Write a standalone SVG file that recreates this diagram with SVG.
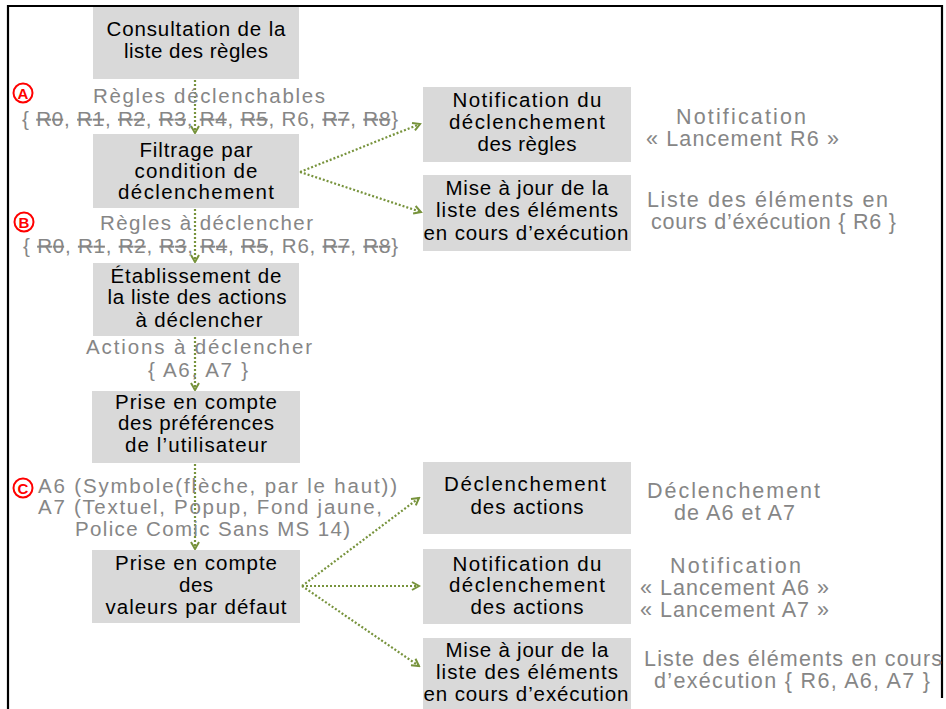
<svg xmlns="http://www.w3.org/2000/svg" width="946" height="709" viewBox="0 0 946 709">
<style>
.box{fill:#D9D9D9}
.bt{font-family:"Liberation Sans",Arial,sans-serif;font-size:20.5px;fill:#000;text-anchor:middle}
.gl{font-family:"Liberation Sans",Arial,sans-serif;font-size:20.5px;fill:#868686}
.gr{font-family:"Liberation Sans",Arial,sans-serif;font-size:21.5px;fill:#868686}
.st{text-decoration:line-through}
.con{fill:none;stroke:#77933C;stroke-width:2.2;stroke-dasharray:2 2;marker-end:url(#ah)}
.mk{fill:none;stroke:#FF0000;stroke-width:2}
.mt{font-family:"Liberation Sans",Arial,sans-serif;font-size:15px;font-weight:bold;fill:#FF0000;text-anchor:middle}
</style>
<defs>
<marker id="ah" markerWidth="10" markerHeight="10" refX="8" refY="5" orient="auto" markerUnits="userSpaceOnUse">
<path d="M1,1 L8,5 L1,9" fill="none" stroke="#77933C" stroke-width="2"/>
</marker>
</defs>
<rect x="0" y="0" width="946" height="709" fill="#FFFFFF"/>
<path d="M8,712 L8,6 L942,6 L942,698" fill="none" stroke="#000" stroke-width="2.2"/>

<g id="connectors">
<line class="con" x1="195" y1="80" x2="195" y2="133"/>
<line class="con" x1="195" y1="209" x2="195" y2="262"/>
<line class="con" x1="195" y1="337" x2="195" y2="390"/>
<line class="con" x1="195" y1="464" x2="195" y2="549"/>
<line class="con" x1="300" y1="172" x2="420" y2="124"/>
<line class="con" x1="300" y1="172" x2="421" y2="212"/>
<line class="con" x1="302" y1="586" x2="419" y2="498"/>
<line class="con" x1="302" y1="586" x2="419" y2="586"/>
<line class="con" x1="302" y1="586" x2="419" y2="666"/>
</g>

<g id="n-consultation">
<rect class="box" x="93" y="7" width="206" height="72"/>
<text class="bt" x="196" y="36" textLength="179">Consultation de la</text>
<text class="bt" x="196" y="58" textLength="144">liste des règles</text>
</g>
<g id="n-filtrage">
<rect class="box" x="93" y="134" width="206" height="74"/>
<text class="bt" x="196" y="157" textLength="113">Filtrage par</text>
<text class="bt" x="196" y="178" textLength="123">condition de</text>
<text class="bt" x="196" y="199" textLength="156">déclenchement</text>
</g>
<g id="n-etablissement">
<rect class="box" x="93" y="263" width="206" height="73"/>
<text class="bt" x="196" y="283" textLength="171">Établissement de</text>
<text class="bt" x="197" y="304" textLength="179">la liste des actions</text>
<text class="bt" x="199" y="327" textLength="127">à déclencher</text>
</g>
<g id="n-preferences">
<rect class="box" x="92" y="391" width="208" height="72"/>
<text class="bt" x="196" y="409" textLength="162">Prise en compte</text>
<text class="bt" x="196" y="430" textLength="156">des préférences</text>
<text class="bt" x="196" y="452" textLength="142">de l’utilisateur</text>
</g>
<g id="n-defaut">
<rect class="box" x="92" y="550" width="208" height="73"/>
<text class="bt" x="196" y="570" textLength="162">Prise en compte</text>
<text class="bt" x="196" y="592" textLength="34">des</text>
<text class="bt" x="196" y="614" textLength="181">valeurs par défaut</text>
</g>
<g id="n-notif-regles">
<rect class="box" x="423" y="87" width="208" height="75"/>
<text class="bt" x="527" y="107" textLength="149">Notification du</text>
<text class="bt" x="527" y="129" textLength="156">déclenchement</text>
<text class="bt" x="527" y="151" textLength="99">des règles</text>
</g>
<g id="n-maj1">
<rect class="box" x="423" y="175" width="208" height="76"/>
<text class="bt" x="527" y="195" textLength="163">Mise à jour de la</text>
<text class="bt" x="527" y="217" textLength="182">liste des éléments</text>
<text class="bt" x="526" y="240" textLength="205">en cours d’exécution</text>
</g>
<g id="n-declenchement">
<rect class="box" x="423" y="462" width="208" height="72"/>
<text class="bt" x="525" y="491" textLength="162">Déclenchement</text>
<text class="bt" x="527" y="514" textLength="113">des actions</text>
</g>
<g id="n-notif-actions">
<rect class="box" x="423" y="549" width="208" height="75"/>
<text class="bt" x="527" y="571" textLength="149">Notification du</text>
<text class="bt" x="527" y="592" textLength="156">déclenchement</text>
<text class="bt" x="527" y="614" textLength="113">des actions</text>
</g>
<g id="n-maj2">
<rect class="box" x="423" y="638" width="208" height="80"/>
<text class="bt" x="527" y="657" textLength="163">Mise à jour de la</text>
<text class="bt" x="527" y="679" textLength="182">liste des éléments</text>
<text class="bt" x="526" y="701" textLength="205">en cours d’exécution</text>
</g>

<g id="markers">
<circle class="mk" cx="23" cy="93" r="9.5"/><text class="mt" x="23" y="98.5">A</text>
<circle class="mk" cx="24" cy="222" r="9.5"/><text class="mt" x="24" y="227.5">B</text>
<circle class="mk" cx="23" cy="488" r="9.5"/><text class="mt" x="23" y="493.5">C</text>
</g>

<g id="labels">
<text class="gl" x="93" y="103" textLength="232">Règles déclenchables</text>
<text class="gl" x="22" y="126" textLength="376">{ <tspan class="st">R0</tspan>, <tspan class="st">R1</tspan>, <tspan class="st">R2</tspan>, <tspan class="st">R3</tspan>, <tspan class="st">R4</tspan>, <tspan class="st">R5</tspan>, R6, <tspan class="st">R7</tspan>, <tspan class="st">R8</tspan>}</text>
<text class="gl" x="100" y="230" textLength="213">Règles à déclencher</text>
<text class="gl" x="23" y="253" textLength="375">{ <tspan class="st">R0</tspan>, <tspan class="st">R1</tspan>, <tspan class="st">R2</tspan>, <tspan class="st">R3</tspan>, <tspan class="st">R4</tspan>, <tspan class="st">R5</tspan>, R6, <tspan class="st">R7</tspan>, <tspan class="st">R8</tspan>}</text>
<text class="gl" x="86" y="354" textLength="226">Actions à déclencher</text>
<text class="gl" x="148" y="377" textLength="100">{ A6, A7 }</text>
<text class="gl" x="38" y="493" textLength="359">A6 (Symbole(flèche, par le haut))</text>
<text class="gl" x="38" y="514" textLength="344">A7 (Textuel, Popup, Fond jaune,</text>
<text class="gl" x="75" y="536" textLength="275">Police Comic Sans MS 14)</text>
<text class="gr" x="676" y="124" textLength="130">Notification</text>
<text class="gr" x="646" y="146" textLength="193">« Lancement R6 »</text>
<text class="gr" x="647" y="207" textLength="241">Liste des éléments en</text>
<text class="gr" x="651" y="229" textLength="245">cours d’éxécution { R6 }</text>
<text class="gr" x="647" y="498" textLength="173">Déclenchement</text>
<text class="gr" x="674" y="520" textLength="121">de A6 et A7</text>
<text class="gr" x="670" y="573" textLength="131">Notification</text>
<text class="gr" x="640" y="595" textLength="189">« Lancement A6 »</text>
<text class="gr" x="640" y="617" textLength="189">« Lancement A7 »</text>
<text class="gr" x="644" y="666" textLength="298">Liste des éléments en cours</text>
<text class="gr" x="654" y="688" textLength="276">d’exécution { R6, A6, A7 }</text>
</g>
</svg>
